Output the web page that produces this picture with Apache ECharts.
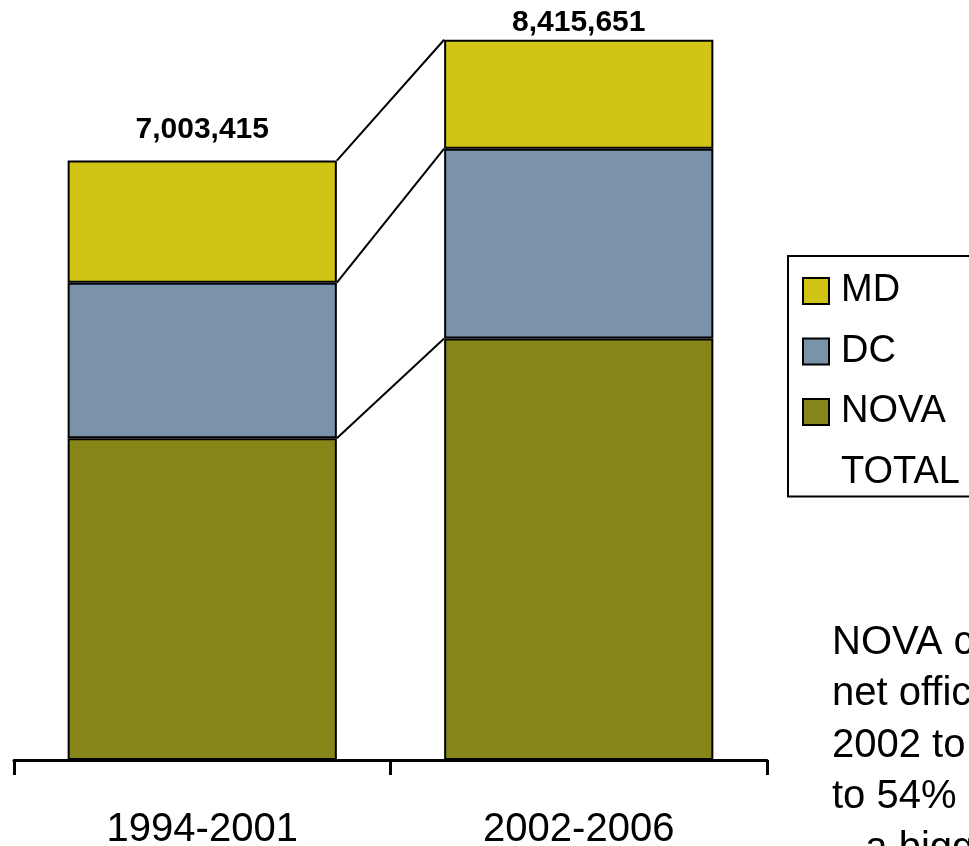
<!DOCTYPE html>
<html>
<head>
<meta charset="utf-8">
<style>
  html, body { margin: 0; padding: 0; background: #ffffff; }
  #chart { width: 969px; height: 846px; }
</style>
<script src="https://cdn.jsdelivr.net/npm/echarts@6/dist/echarts.min.js"></script>
</head>
<body>
<div id="chart"></div>
<script>
// Net office absorption by sub-market, two periods (square feet)
const periods = ['1994-2001', '2002-2006'];
const nova = [3760000, 4924000];
const dc = [1817000, 2219000];
const md = [1426415, 1272651];
const totals = [7003415, 8415651];

const colors = { MD: '#D2C417', DC: '#7B93AA', NOVA: '#878719' };

const noteText = 'NOVA captured more\nnet office absorption\n2002 to 2006, rising\nto 54% of the region\n\u2013 a bigger share';

const BAR_RATIO = 0.715;

// cumulative stack heights at each segment boundary: [period index, first bar, second bar]
const boundaries = [
  [0, nova[0], nova[1]],
  [0, nova[0] + dc[0], nova[1] + dc[1]],
  [0, totals[0], totals[1]]
];

// total labels sit above each bar; the taller one is kept inside the chart's top edge
const totalLabelGap = [15, 2];

const font = 'Arial, "Liberation Sans", sans-serif';

const totalLabelStyle = {
  show: true,
  position: 'top',
  fontSize: 30,
  fontWeight: 'bold',
  color: '#000000',
  opacity: 1,
  fontFamily: font
};

function barSeries(name, values) {
  return {
    name: name,
    type: 'bar',
    stack: 'all',
    barWidth: (BAR_RATIO * 100) + '%',
    data: values,
    itemStyle: { color: colors[name], borderColor: '#000', borderWidth: 2 },
    emphasis: { disabled: true }
  };
}

const chart = echarts.init(document.getElementById('chart'), null, { renderer: 'canvas' });

chart.setOption({
  animation: false,
  backgroundColor: '#ffffff',
  textStyle: { fontFamily: font },
  grid: { left: 14, right: 202, top: 0, bottom: 86, containLabel: false, outerBoundsMode: 'none' },
  legend: {
    orient: 'vertical',
    left: 788,
    top: 256,
    padding: [16, 14, 5, 14],
    borderColor: '#000',
    borderWidth: 2,
    itemWidth: 26,
    itemHeight: 26,
    itemGap: 22.5,
    selectedMode: false,
    textStyle: { fontSize: 38, color: '#000', fontFamily: font, padding: [0, 0, 0, 7] },
    data: [
      { name: 'MD', icon: 'rect' },
      { name: 'DC', icon: 'rect' },
      { name: 'NOVA', icon: 'rect' },
      { name: 'TOTAL', icon: 'none' }
    ]
  },
  xAxis: {
    type: 'category',
    data: periods,
    axisLine: { lineStyle: { color: '#000', width: 3 } },
    axisTick: { show: true, length: 15, lineStyle: { color: '#000', width: 3 } },
    axisLabel: { fontSize: 40, color: '#000', margin: 50, fontFamily: font }
  },
  yAxis: {
    type: 'value',
    min: 0,
    max: 8880000,
    show: false,
    splitLine: { show: false }
  },
  series: [
    barSeries('NOVA', nova),
    barSeries('DC', dc),
    barSeries('MD', md),
    {
      name: 'TOTAL',
      type: 'scatter',
      data: totals.map((v, i) => ({
        value: v,
        label: { distance: totalLabelGap[i], color: '#000000', opacity: 1 }
      })),
      symbolSize: 1,
      itemStyle: { color: 'rgba(0,0,0,0)' },
      label: Object.assign({}, totalLabelStyle, {
        formatter: p => p.value.toLocaleString('en-US')
      }),
      emphasis: { disabled: true },
      z: 5
    },
    {
      // series lines joining the segment tops of neighbouring bars
      name: 'connectors',
      type: 'custom',
      data: boundaries,
      encode: { x: 0, y: 1 },
      silent: true,
      z: 4,
      renderItem: function (params, api) {
        const band = api.size([1, 0])[0];
        const half = band * BAR_RATIO / 2;
        const p1 = api.coord([0, api.value(1)]);
        const p2 = api.coord([1, api.value(2)]);
        return {
          type: 'line',
          shape: { x1: p1[0] + half, y1: p1[1], x2: p2[0] - half, y2: p2[1] },
          style: { stroke: '#000', lineWidth: 2 }
        };
      }
    }
  ],
  graphic: [
    {
      type: 'text',
      left: 832,
      top: 617,
      silent: true,
      style: {
        text: noteText,
        fontSize: 40,
        lineHeight: 51.5,
        fill: '#000',
        fontFamily: font
      }
    }
  ]
});
</script>
</body>
</html>
